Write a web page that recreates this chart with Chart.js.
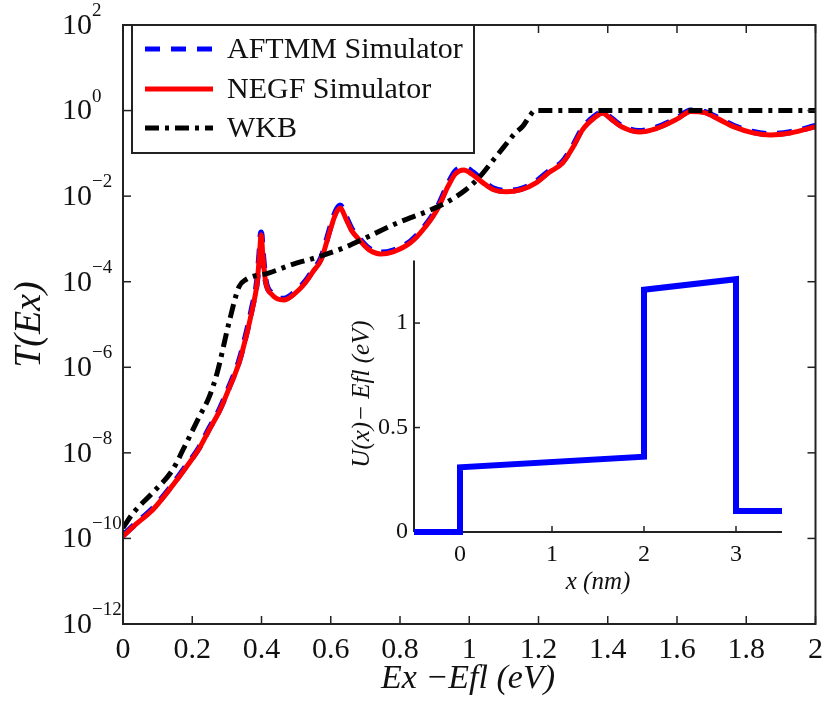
<!DOCTYPE html>
<html>
<head>
<meta charset="utf-8">
<script src="https://cdn.jsdelivr.net/npm/chart.js"></script>
<style>
  html, body { margin: 0; padding: 0; background: #fff; }
  #wrap { position: relative; width: 831px; height: 702px; overflow: hidden; }
  #mainChart { position: absolute; left: 0; top: 0; }
  #insetChart { position: absolute; left: 330px; top: 240px; }
</style>
</head>
<body>
<div id="wrap">
  <canvas id="mainChart" width="831" height="702"></canvas>
  <canvas id="insetChart" width="470" height="370"></canvas>
</div>
<script>
// transmission T(Ex), stored as log10(T)
const energy = [0, 0.04, 0.086, 0.13, 0.183, 0.22, 0.249, 0.28, 0.306, 0.335,
  0.358, 0.373, 0.387, 0.394, 0.399, 0.404, 0.412, 0.43, 0.464, 0.5,
  0.526, 0.55, 0.572, 0.6, 0.615, 0.627, 0.645, 0.66, 0.678, 0.71,
  0.744, 0.78, 0.83, 0.87, 0.907, 0.94, 0.96, 0.984, 1.01, 1.04,
  1.07, 1.107, 1.15, 1.193, 1.23, 1.27, 1.3, 1.327, 1.36, 1.385,
  1.41, 1.44, 1.49, 1.54, 1.6, 1.64, 1.68, 1.72, 1.765, 1.82,
  1.87, 1.93, 2.0];
const negfLogT = [-9.95, -9.65, -9.33, -8.9, -8.33, -7.9, -7.46, -7.0, -6.5, -5.9,
  -5.2, -4.66, -4.05, -3.4, -2.9, -3.4, -4.0, -4.3, -4.43, -4.25,
  -4.03, -3.75, -3.49, -2.75, -2.4, -2.28, -2.55, -2.8, -2.98, -3.25,
  -3.35, -3.3, -3.09, -2.75, -2.32, -1.75, -1.48, -1.39, -1.5, -1.69,
  -1.85, -1.9, -1.85, -1.69, -1.45, -1.22, -0.85, -0.45, -0.18, -0.06,
  -0.2, -0.38, -0.5, -0.42, -0.2, -0.02, -0.05, -0.2, -0.38, -0.52,
  -0.57, -0.52, -0.38];
const aftmmLogT = [-9.93, -9.63, -9.3, -8.88, -8.3, -7.88, -7.43, -6.97, -6.47, -5.86,
  -5.15, -4.6, -4.0, -3.35, -2.85, -3.35, -3.97, -4.27, -4.4, -4.22,
  -4.0, -3.72, -3.45, -2.7, -2.35, -2.22, -2.5, -2.76, -2.95, -3.22,
  -3.32, -3.27, -3.06, -2.72, -2.28, -1.7, -1.42, -1.33, -1.44, -1.65,
  -1.82, -1.88, -1.83, -1.66, -1.42, -1.19, -0.82, -0.42, -0.15, -0.04,
  -0.18, -0.36, -0.48, -0.4, -0.18, 0.0, -0.03, -0.18, -0.36, -0.5,
  -0.55, -0.5, -0.36];
const wkbEnergy = [0, 0.03, 0.086, 0.143, 0.172, 0.22, 0.249, 0.272, 0.306, 0.335,
  0.355, 0.42, 0.487, 0.564, 0.64, 0.72, 0.8, 0.88, 0.94, 0.99,
  1.03, 1.07, 1.1, 1.13, 1.156, 1.175, 1.19, 1.4, 1.6, 1.8, 2.0];
const wkbLogT = [-9.75, -9.4, -8.93, -8.4, -7.95, -7.16, -6.69, -6.13, -4.96, -4.12,
  -3.95, -3.8, -3.6, -3.42, -3.2, -2.9, -2.6, -2.35, -2.12, -1.85,
  -1.55, -1.15, -0.85, -0.55, -0.35, -0.12, 0, 0, 0, 0, 0];

const xTicks = [0, 0.2, 0.4, 0.6, 0.8, 1, 1.2, 1.4, 1.6, 1.8, 2];
const yExponents = [-12, -10, -8, -6, -4, -2, 0, 2];

// inset: potential profile U(x) - Efl
const insetX = [-0.5, 0, 0, 2, 2, 3, 3, 3.5];
const insetU = [0, 0, 0.31, 0.36, 1.16, 1.21, 0.1, 0.1];
const insetXTicks = [0, 1, 2, 3];
const insetYTicks = [0, 0.5, 1];

const SERIF = '"Liberation Serif", "Times New Roman", serif';
const INK = '#111';

function logPoints(xs, logs) {
    return xs.map((x, i) => ({ x: x, y: Math.pow(10, logs[i]) }));
}

function line(ctx, x1, y1, x2, y2) {
    ctx.beginPath();
    ctx.moveTo(x1, y1);
    ctx.lineTo(x2, y2);
    ctx.stroke();
}

const mainDecor = {
    id: 'mainDecor',
    afterDatasetsDraw(chart) {
        const { ctx, chartArea: a, scales: { x, y } } = chart;
        ctx.save();
        // frame + inner ticks on all four sides
        ctx.strokeStyle = '#222';
        ctx.lineWidth = 2;
        ctx.strokeRect(a.left, a.top, a.right - a.left, a.bottom - a.top);
        ctx.lineWidth = 1.5;
        xTicks.forEach(v => {
            const px = x.getPixelForValue(v);
            line(ctx, px, a.bottom, px, a.bottom - 8);
            line(ctx, px, a.top, px, a.top + 8);
        });
        yExponents.forEach(e => {
            const py = y.getPixelForValue(Math.pow(10, e));
            line(ctx, a.left, py, a.left + 8, py);
            line(ctx, a.right, py, a.right - 8, py);
        });

        // y tick labels 10^n
        ctx.fillStyle = INK;
        ctx.textAlign = 'left';
        ctx.textBaseline = 'middle';
        yExponents.forEach(e => {
            const py = y.getPixelForValue(Math.pow(10, e));
            ctx.font = '30px ' + SERIF;
            ctx.fillText('10', 62, py + 1);
            const w = ctx.measureText('10').width;
            ctx.font = '19px ' + SERIF;
            ctx.fillText(e < 0 ? '\u2212' + (-e) : String(e), 62 + w, py - 14);
        });

        // axis titles
        ctx.font = 'italic 38px ' + SERIF;
        ctx.textAlign = 'center';
        ctx.save();
        ctx.translate(30, (a.top + a.bottom) / 2);
        ctx.rotate(-Math.PI / 2);
        ctx.fillText('T(Ex)', 0, 0);
        ctx.restore();
        ctx.font = 'italic 34px ' + SERIF;
        ctx.fillText('Ex \u2212Efl (eV)', 468, 679);

        // legend box in the top left corner
        const lg = { left: 132, right: 474, top: a.top, bottom: 153 };
        ctx.fillStyle = '#fff';
        ctx.fillRect(lg.left, lg.top, lg.right - lg.left, lg.bottom - lg.top);
        ctx.strokeStyle = '#222';
        ctx.lineWidth = 2;
        ctx.strokeRect(lg.left, lg.top, lg.right - lg.left, lg.bottom - lg.top);
        const rows = [49, 89, 128];
        chart.data.datasets.forEach((ds, i) => {
            const ry = rows[i];
            ctx.strokeStyle = ds.borderColor;
            ctx.lineWidth = 5;
            ctx.setLineDash(ds.borderDash || []);
            line(ctx, 145, ry, 213, ry);
            ctx.setLineDash([]);
            ctx.fillStyle = INK;
            ctx.font = '30px ' + SERIF;
            ctx.textAlign = 'left';
            ctx.fillText(ds.label, 227, ry + 1);
        });
        ctx.restore();
    }
};

new Chart(document.getElementById('mainChart'), {
    type: 'line',
    data: {
        datasets: [
            {
                label: 'AFTMM Simulator',
                data: logPoints(energy, aftmmLogT),
                borderColor: '#0000ff',
                borderWidth: 6,
                borderDash: [15, 11],
                pointRadius: 0,
                cubicInterpolationMode: 'monotone',
                order: 3
            },
            {
                label: 'NEGF Simulator',
                data: logPoints(energy, negfLogT),
                borderColor: '#ff0000',
                borderWidth: 5,
                pointRadius: 0,
                cubicInterpolationMode: 'monotone',
                order: 2
            },
            {
                label: 'WKB',
                data: logPoints(wkbEnergy, wkbLogT),
                borderColor: '#000000',
                borderWidth: 5,
                borderDash: [14, 6, 4, 6],
                pointRadius: 0,
                cubicInterpolationMode: 'monotone',
                order: 1
            }
        ]
    },
    options: {
        responsive: false,
        animation: false,
        devicePixelRatio: 1,
        layout: { padding: { top: 25, right: 9, left: 0, bottom: 0 } },
        plugins: { legend: { display: false }, tooltip: { enabled: false } },
        scales: {
            x: {
                type: 'linear',
                min: 0,
                max: 2,
                afterBuildTicks: s => { s.ticks = xTicks.map(v => ({ value: v })); },
                afterFit: s => { s.height = 78; },
                grid: { display: false, drawTicks: false },
                border: { display: false },
                ticks: {
                    font: { family: SERIF, size: 30 },
                    color: INK,
                    padding: 8,
                    maxRotation: 0,
                    autoSkip: false,
                    callback: v => String(+Number(v).toFixed(1))
                }
            },
            y: {
                type: 'logarithmic',
                min: 1e-12,
                max: 1e2,
                afterBuildTicks: s => { s.ticks = yExponents.map(e => ({ value: Math.pow(10, e) })); },
                afterFit: s => { s.width = 123; },
                grid: { display: false, drawTicks: false },
                border: { display: false },
                ticks: { display: false }
            }
        }
    },
    plugins: [mainDecor]
});

const insetDecor = {
    id: 'insetDecor',
    beforeDatasetsDraw(chart) {
        const { ctx, chartArea: a, scales: { x, y } } = chart;
        ctx.save();
        ctx.strokeStyle = '#222';
        ctx.lineWidth = 2;
        line(ctx, a.left, a.top, a.left, a.bottom);
        line(ctx, a.left, a.bottom, a.right, a.bottom);
        ctx.lineWidth = 1.5;
        insetXTicks.forEach(v => {
            const px = x.getPixelForValue(v);
            line(ctx, px, a.bottom, px, a.bottom - 6);
        });
        insetYTicks.forEach(v => {
            const py = y.getPixelForValue(v);
            line(ctx, a.left, py, a.left + 6, py);
        });
        ctx.restore();
    },
    afterDraw(chart) {
        const { ctx, chartArea: a } = chart;
        ctx.save();
        ctx.fillStyle = INK;
        ctx.textAlign = 'center';
        ctx.textBaseline = 'middle';
        ctx.font = 'italic 25px ' + SERIF;
        ctx.translate(32, 154);
        ctx.rotate(-Math.PI / 2);
        ctx.fillText('U(x)\u2212 Efl (eV)', 0, 0);
        ctx.restore();
        ctx.save();
        ctx.fillStyle = INK;
        ctx.textAlign = 'center';
        ctx.textBaseline = 'middle';
        ctx.font = 'italic 25px ' + SERIF;
        ctx.fillText('x (nm)', (a.left + a.right) / 2, 342);
        ctx.restore();
    }
};

new Chart(document.getElementById('insetChart'), {
    type: 'line',
    data: {
        datasets: [{
            label: 'U(x)',
            data: insetX.map((x, i) => ({ x: x, y: insetU[i] })),
            borderColor: '#0000ff',
            borderWidth: 6,
            pointRadius: 0,
            tension: 0,
            clip: false
        }]
    },
    options: {
        responsive: false,
        animation: false,
        devicePixelRatio: 1,
        layout: { padding: { top: 13, right: 18, left: 0, bottom: 0 } },
        plugins: { legend: { display: false }, tooltip: { enabled: false } },
        scales: {
            x: {
                type: 'linear',
                min: -0.5,
                max: 3.5,
                afterBuildTicks: s => { s.ticks = insetXTicks.map(v => ({ value: v })); },
                afterFit: s => { s.height = 78; },
                grid: { display: false, drawTicks: false },
                border: { display: false },
                ticks: { font: { family: SERIF, size: 24 }, color: INK, padding: 8, maxRotation: 0, autoSkip: false }
            },
            y: {
                type: 'linear',
                min: 0,
                max: 1.3,
                afterBuildTicks: s => { s.ticks = insetYTicks.map(v => ({ value: v })); },
                afterFit: s => { s.width = 84; },
                grid: { display: false, drawTicks: false },
                border: { display: false },
                ticks: { font: { family: SERIF, size: 24 }, color: INK, padding: 6, callback: v => String(v) }
            }
        }
    },
    plugins: [insetDecor]
});
</script>
</body>
</html>
